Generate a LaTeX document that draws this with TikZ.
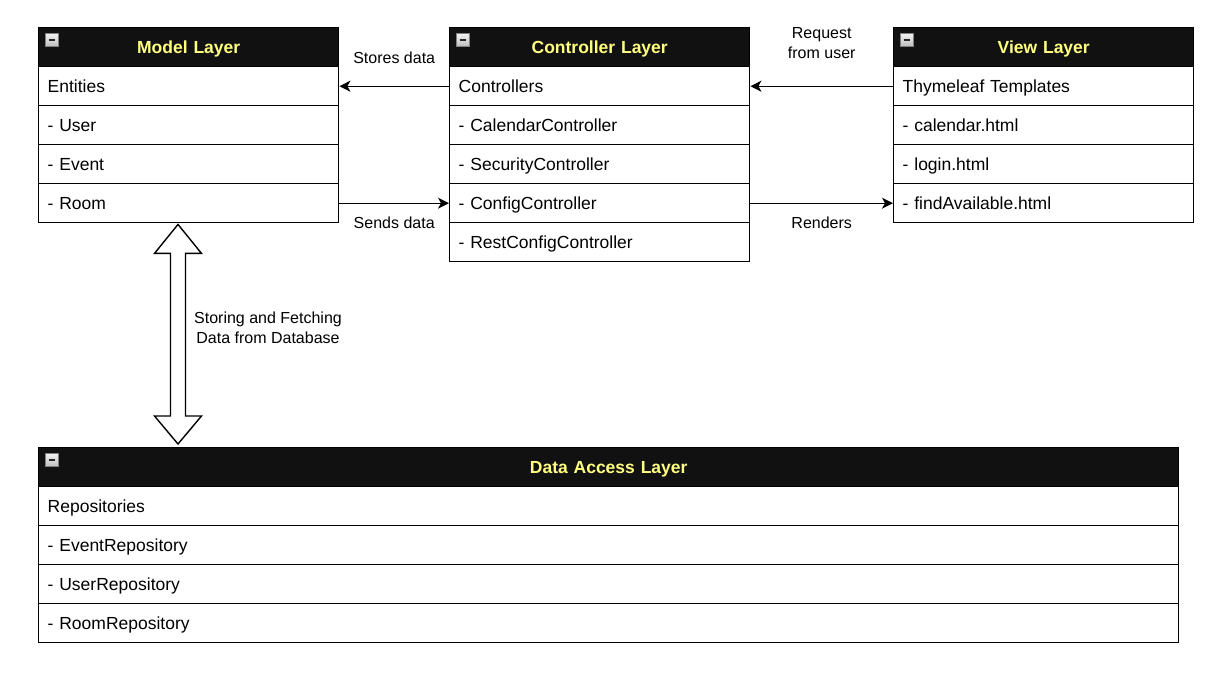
\documentclass[tikz,border=0pt]{standalone}
\usepackage{fontspec}
\setmainfont{Liberation Sans}
\usetikzlibrary{arrows.meta}
\definecolor{fondentete}{HTML}{111111}
\definecolor{titre}{HTML}{FFFF80}

\begin{document}
\begin{tikzpicture}[x=1pt, y=-1pt,
  ligne/.style={draw, line width=1.4pt, fill=white, anchor=north west, text width=#1,
    inner xsep=9pt, inner ysep=0pt, minimum height=39pt, align=left,
    text height=15.5pt, text depth=2pt, font=\fontsize{17.5}{21}\selectfont},
  ligne/.default=282pt,
  entete/.style={ligne=#1, fill=fondentete, text=titre, align=center,
    font=\fontsize{17.5}{21}\selectfont\bfseries},
  entete/.default=282pt,
  lien/.style={line width=1.4pt, -{Stealth[length=11pt,width=11pt,inset=3pt]}},
  etiq/.style={font=\fontsize{16}{20}\selectfont, align=center},
  icone/.style={draw=black!50, line width=0.8pt, top color=gray!10, bottom color=gray!50},
  bloc/.style={draw, line width=1.4pt, fill=white, line join=miter}]

 \useasboundingbox (0,0) rectangle (1210,677);

	% Model Layer
 \node[entete] (model) at (38,27) {Model Layer};
 \node[ligne] (m1) at (38,66) {Entities};
 \node[ligne] (m2) at (38,105) {- User};
 \node[ligne] (m3) at (38,144) {- Event};
 \node[ligne] (m4) at (38,183) {- Room};

	% Controller Layer
 \node[entete] (ctrl) at (449,27) {Controller Layer};
 \node[ligne] (c1) at (449,66) {Controllers};
 \node[ligne] (c2) at (449,105) {- CalendarController};
 \node[ligne] (c3) at (449,144) {- SecurityController};
 \node[ligne] (c4) at (449,183) {- ConfigController};
 \node[ligne] (c5) at (449,222) {- RestConfigController};

	% View Layer
 \node[entete] (vue) at (893,27) {View Layer};
 \node[ligne] (v1) at (893,66) {Thymeleaf Templates};
 \node[ligne] (v2) at (893,105) {- calendar.html};
 \node[ligne] (v3) at (893,144) {- login.html};
 \node[ligne] (v4) at (893,183) {- findAvailable.html};

	% Data Access Layer
 \node[entete=1122pt] (donnees) at (38,447) {Data Access Layer};
 \node[ligne=1122pt] (d1) at (38,486) {Repositories};
 \node[ligne=1122pt] (d2) at (38,525) {- EventRepository};
 \node[ligne=1122pt] (d3) at (38,564) {- UserRepository};
 \node[ligne=1122pt] (d4) at (38,603) {- RoomRepository};

	% Icones des entetes
 \foreach \t in {model, ctrl, vue, donnees} {
  \draw[icone] ([shift={(7.5,6.5)}]\t.north west) rectangle ++(12.5,12.5);
  \draw[line width=2pt, black!85] ([shift={(10.5,12.75)}]\t.north west) -- ++(6.5,0);
 }

	% Liaisons entre couches
 \draw[lien] (c1.west) -- (m1.east) node[etiq, midway, yshift=28pt]{Stores data};
 \draw[lien] (m4.east) -- (c4.west) node[etiq, midway, yshift=-20pt]{Sends data};
 \draw[lien] (v1.west) -- (c1.east) node[etiq, midway, yshift=43pt]{Request\\from user};
 \draw[lien] (c4.east) -- (v4.west) node[etiq, midway, yshift=-20pt]{Renders};

	% Fleche double vers la base
 \coordinate (haut) at ([xshift=140pt, yshift=-1pt]m4.south west);
 \coordinate (bas) at ([yshift=3pt]haut |- donnees.north);
 \draw[bloc] (haut) -- ++(23.5,29) -- ++(-16,0) -- ([shift={(7.5,-28)}]bas) -- ++(16,0)
   -- (bas) -- ++(-23.5,-28) -- ++(16,0) -- ([shift={(-7.5,29)}]haut) -- ++(-16,0) -- cycle;
 \node[etiq] (bd) at (268,328) {Storing and Fetching\\Data from Database};

\end{tikzpicture}
\end{document}
